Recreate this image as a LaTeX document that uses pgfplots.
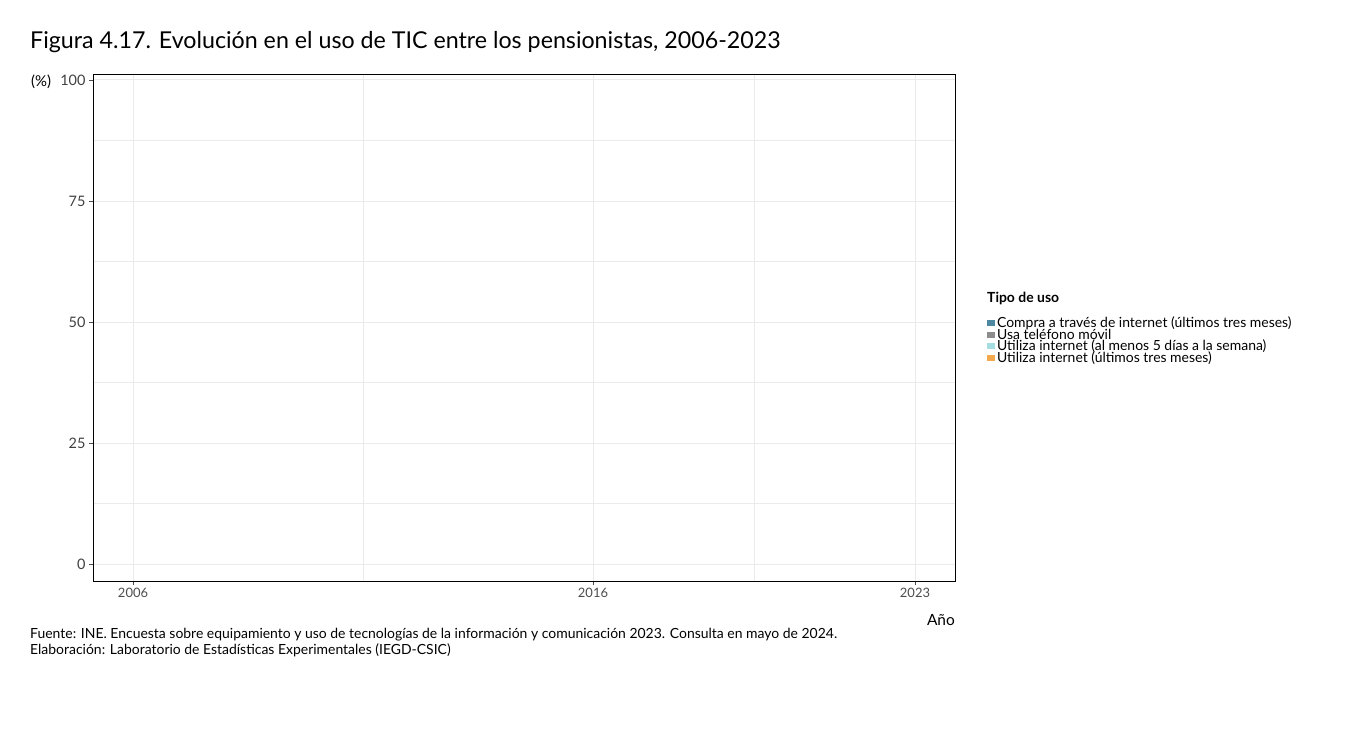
\documentclass[border=0pt]{standalone}
\usepackage{pgfplots}
\pgfplotsset{compat=1.18}
\usepackage{fontspec}
\setmainfont{Lato}
\definecolor{c1}{HTML}{4E87A0}
\definecolor{c2}{HTML}{8C8C8C}
\definecolor{c3}{HTML}{A6DDE0}
\definecolor{c4}{HTML}{F5A94E}
\definecolor{gridc}{HTML}{EBEBEB}
\begin{document}
\begin{tikzpicture}[x=1bp,y=1bp]
\path (0,0) rectangle (1350,750);
\node[anchor=base west,inner sep=0pt,font=\fontsize{23.3}{26}\selectfont] at (30,701) {Figura 4.17. Evolución en el uso de TIC entre los pensionistas, 2006-2023};
\begin{axis}[at={(93bp,169bp)},anchor=south west,scale only axis,
 width=862bp,height=507bp,
 xmin=2005.13,xmax=2023.87,ymin=-3.5,ymax=101.24,
 xtick={2006,2016,2023},minor xtick={2011,2019.5},
 ytick={0,25,50,75,100},minor ytick={12.5,37.5,62.5,87.5},
 xtick pos=bottom,ytick pos=left,
 grid=both,major grid style={gridc,line width=1pt},minor grid style={gridc,line width=0.6pt},
 axis line style={black,line width=0.8pt},
 tick align=outside,tick style={black!70},major tick length=4bp,
 minor tick length=0pt,
 xticklabel style={font=\fontsize{13}{15}\selectfont,text=black!70},
 yticklabel style={font=\fontsize{14.5}{16}\selectfont,text=black!75},
 /pgf/number format/assume math mode=true,
 /pgf/number format/1000 sep={},
 legend cell align=left,
 legend style={at={(1.037,0.474)},anchor=west,draw=none,fill=none,inner sep=0pt,
   font=\fontsize{14}{13}\selectfont,row sep=-4.5pt,
   legend image code/.code={\fill[#1] (0bp,-3bp) rectangle (8bp,3bp);}},
]
\addlegendimage{fill=c1,draw=none}\addlegendentry{Compra a través de internet (últimos tres meses)}
\addlegendimage{fill=c2,draw=none}\addlegendentry{Usa teléfono móvil}
\addlegendimage{fill=c3,draw=none}\addlegendentry{Utiliza internet (al menos 5 días a la semana)}
\addlegendimage{fill=c4,draw=none}\addlegendentry{Utiliza internet (últimos tres meses)}
\end{axis}
\node[anchor=west,inner sep=0pt,font=\fontsize{14}{16}\selectfont\bfseries] at (987,452) {Tipo de uso};
\node[anchor=base west,inner sep=0pt,font=\fontsize{15}{17}\selectfont] at (31,663) {(\%)};
\node[anchor=base east,inner sep=0pt,font=\fontsize{15.5}{17}\selectfont] at (955,124) {Año};
\node[anchor=base west,inner sep=0pt,font=\fontsize{14}{16}\selectfont] at (30,111) {Fuente: INE. Encuesta sobre equipamiento y uso de tecnologías de la información y comunicación 2023. Consulta en mayo de 2024.};
\node[anchor=base west,inner sep=0pt,font=\fontsize{14}{16}\selectfont] at (30,95) {Elaboración: Laboratorio de Estadísticas Experimentales (IEGD-CSIC)};
\end{tikzpicture}
\end{document}
